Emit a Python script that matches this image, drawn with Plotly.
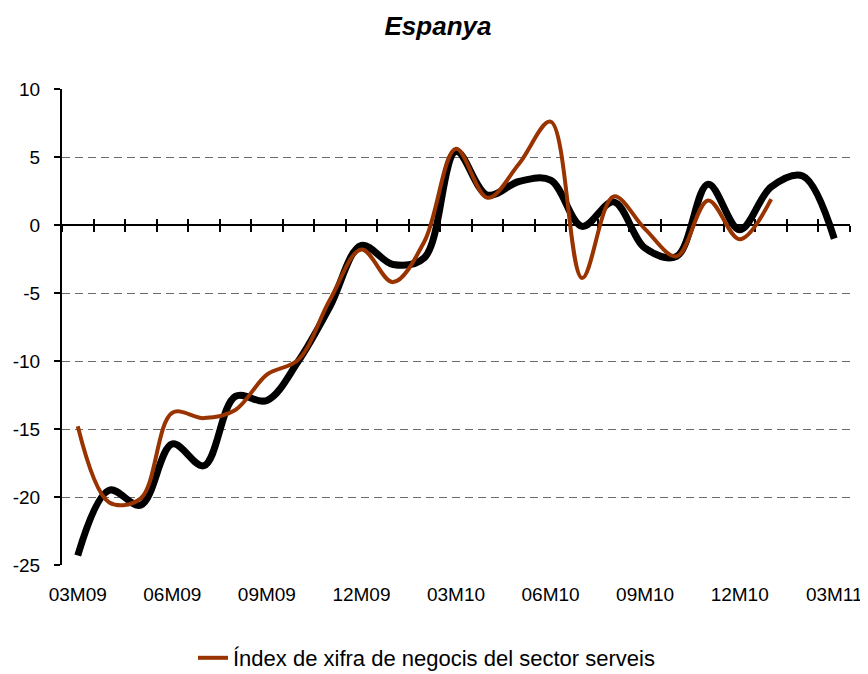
import plotly.graph_objects as go

months = ["03M09", "04M09", "05M09", "06M09", "07M09", "08M09", "09M09", "10M09", "11M09", "12M09",
          "01M10", "02M10", "03M10", "04M10", "05M10", "06M10", "07M10", "08M10", "09M10", "10M10",
          "11M10", "12M10", "01M11", "02M11", "03M11"]
tick_labels = months[::3]

y_tick_values = [-25, -20, -15, -10, -5, 0, 5, 10]
y_tick_labels = ["-25", "-20", "-15", "-10", "-5", "0", "5", "10"]

indicador = [-24.3, -19.5, -20.6, -16.1, -17.7, -12.6, -12.9, -10.0, -6.0, -1.5,
             -2.9, -2.4, 5.4, 2.2, 3.2, 3.3, -0.1, 1.7, -1.7, -2.3,
             3.0, -0.35, 2.8, 3.6, -1.0]

xifra_negocis = [-14.8, -20.4, -20.1, -13.8, -14.2, -13.6, -11.0, -9.9, -5.5, -1.8,
                 -4.2, -1.2, 5.6, 2.0, 4.5, 7.6, -3.9, 2.1, -0.3, -2.3,
                 1.8, -1.05, 1.9, None, None]

FONT = "Liberation Sans, Arial, sans-serif"

# the page body adds an 8px offset, so the figure is sized to fit the window
W, H = 860, 666

fig = go.Figure()
fig.add_trace(go.Scatter(x=months, y=indicador, mode="lines", name="Indicador",
                         line=dict(color="#000000", width=7, shape="spline", smoothing=1.0),
                         showlegend=False))
fig.add_trace(go.Scatter(x=months, y=xifra_negocis, mode="lines",
                         name="Índex de xifra de negocis del sector serveis",
                         line=dict(color="#993300", width=4, shape="spline", smoothing=1.0)))
# helper traces so the zero-crossing axes know the categories
for ax in ["x2", "x3"]:
    fig.add_trace(go.Scatter(x=months, y=[None] * len(months), xaxis=ax, yaxis="y",
                             mode="lines", showlegend=False, hoverinfo="skip"))

zero_pos = 25 / 35

axis_common = dict(type="category", categoryorder="array", categoryarray=months,
                   range=[-0.5, len(months) - 0.5], automargin=False)

fig.update_layout(
    width=W, height=H,
    margin=dict(l=54, r=18, t=81, b=109),
    paper_bgcolor="white", plot_bgcolor="white",
    font=dict(family=FONT, size=19, color="black"),
    title=dict(text="<b><i>Espanya</i></b>", x=0.5, xanchor="center",
               y=1 - 17.5 / H, yanchor="middle", font=dict(size=26, family=FONT)),
    xaxis=dict(**axis_common, tickmode="array", tickvals=tick_labels, ticktext=tick_labels,
               showline=False, showgrid=False, zeroline=False, ticks="",
               ticklabelstandoff=16, tickfont=dict(size=19)),
    xaxis2=dict(**axis_common, overlaying="x", anchor="free", position=zero_pos,
                showline=True, linecolor="black", linewidth=2,
                ticks="outside", ticklen=6, tickwidth=2, tickcolor="black",
                tickson="boundaries", tickmode="linear", tick0=0, dtick=1,
                showticklabels=False, showgrid=False, zeroline=False, layer="below traces"),
    xaxis3=dict(**axis_common, overlaying="x", anchor="free", position=zero_pos,
                showline=False,
                ticks="inside", ticklen=6, tickwidth=2, tickcolor="black",
                tickson="boundaries", tickmode="linear", tick0=0, dtick=1,
                showticklabels=False, showgrid=False, zeroline=False, layer="below traces"),
    yaxis=dict(range=[-25, 10], tickmode="array", tickvals=y_tick_values, ticktext=y_tick_labels,
               showline=True, linecolor="black", linewidth=2,
               ticks="outside", ticklen=6, tickwidth=2, tickcolor="black",
               showgrid=True, gridcolor="#6a6a6a", gridwidth=1, griddash="8px,5px",
               zeroline=False, ticklabelstandoff=10, tickfont=dict(size=19),
               automargin=False, layer="below traces"),
    legend=dict(orientation="h", x=185 / W, xanchor="left", xref="container",
                y=1 - 650 / H, yanchor="middle", yref="container",
                font=dict(size=22, family=FONT), bgcolor="rgba(0,0,0,0)"),
)

fig.write_html("out.html")
